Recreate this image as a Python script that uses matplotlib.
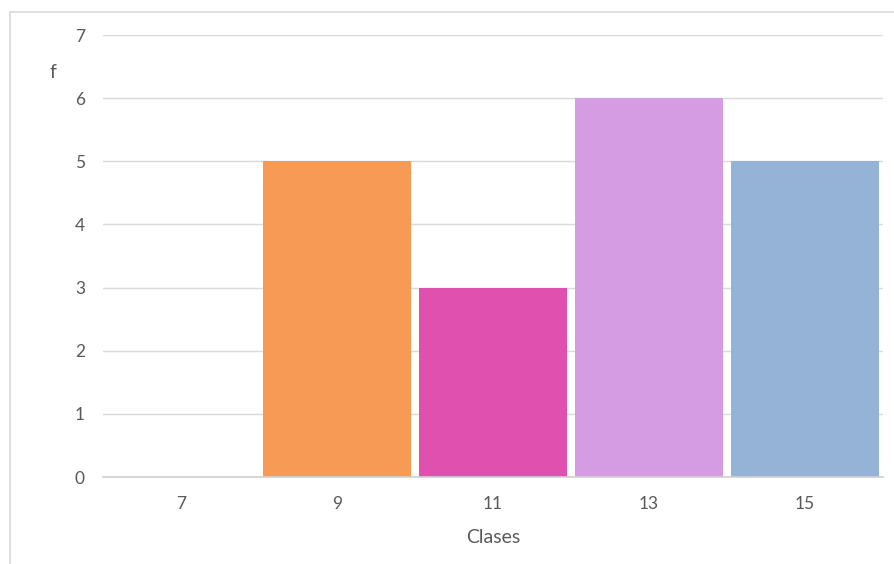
import matplotlib
matplotlib.use("Agg")
import matplotlib.pyplot as plt
from matplotlib.patches import Rectangle

# Frequency table
clases = [7, 9, 11, 13, 15]
frecuencias = [0, 5, 3, 6, 5]
colores = ["#F79A55", "#F79A55", "#E050AE", "#D59BE3", "#95B3D7"]
y_ticks = [0, 1, 2, 3, 4, 5, 6, 7]

plt.rcParams["font.family"] = ["Lato", "DejaVu Sans"]
text_color = "#595959"

fig = plt.figure(figsize=(8.94, 5.64), dpi=100)

# outer chart frame
fig.patches.append(Rectangle((9.5 / 894, -0.1), 1.2, (564 - 11.5) / 564 + 0.1,
                             transform=fig.transFigure, fill=False,
                             edgecolor="#D9D9D9", linewidth=1.2, zorder=0))

ax = fig.add_axes([103 / 894, 87 / 564, 780 / 894, 442 / 564])
x = list(range(len(clases)))
ax.bar(x, frecuencias, width=0.955, color=colores, zorder=3)

ax.set_xlim(-0.5, len(clases) - 0.5)
ax.set_ylim(0, 7)
ax.set_yticks(y_ticks)
ax.set_xticks(x)
ax.set_xticklabels([str(c) for c in clases])
ax.grid(axis="y", color="#D9D9D9", linewidth=1.0, zorder=0)
for s in ["top", "right", "left"]:
    ax.spines[s].set_visible(False)
ax.spines["bottom"].set_color("#D0D0D0")
ax.spines["bottom"].set_linewidth(1.2)
ax.spines["bottom"].set_zorder(4)
ax.tick_params(axis="both", length=0, labelsize=12.5, colors=text_color)
ax.tick_params(axis="y", pad=13)
ax.tick_params(axis="x", pad=14)

ax.set_xlabel("Clases", fontsize=14, color=text_color, labelpad=12)
fig.text(53 / 894, 1 - 72 / 564, "f", fontsize=14, color=text_color,
         ha="center", va="center")

fig.savefig("out.png", dpi=100)
